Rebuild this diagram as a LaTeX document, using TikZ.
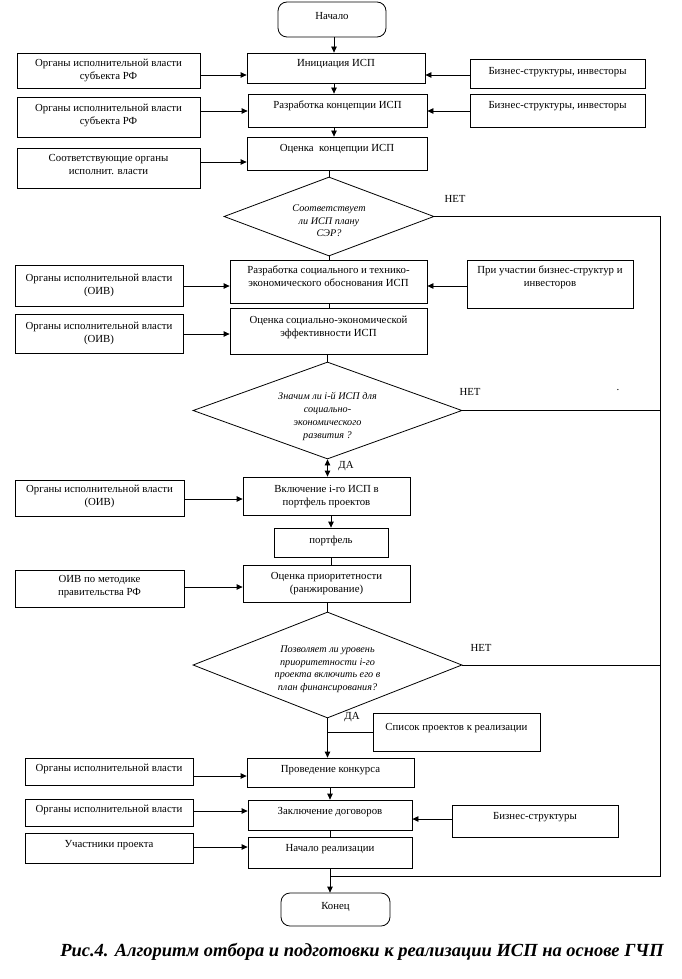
\documentclass[tikz,border=0pt]{standalone}
\usepackage{fontspec}
\setmainfont{Liberation Serif}
\usetikzlibrary{shapes.geometric,arrows.meta}
\newcommand{\mytxt}[2]{\raisebox{#1}[\height][\depth]{\begin{tabular}{@{}c@{}}#2\end{tabular}}}
\tikzset{
  bx/.style 2 args={draw, rectangle, line width=0.8pt, minimum width=#1, minimum height=#2, inner sep=0pt,
    font=\fontsize{10.8}{13}\selectfont},
  term/.style 2 args={bx={#1}{#2}, rounded corners=9pt},
  dia/.style 2 args={draw, diamond, line width=0.8pt, minimum width=#1, minimum height=#2, inner sep=0pt,
    font=\fontsize{10.2}{12.8}\selectfont\itshape},
  lbl/.style={inner sep=0pt, font=\fontsize{10.8}{13}\selectfont},
  ln/.style={line width=0.8pt},
  arr/.style={line width=0.8pt, -{Triangle[length=6pt,width=5.5pt]}},
  darr/.style={line width=0.8pt, {Triangle[length=6pt,width=5.5pt]}-{Triangle[length=6pt,width=5.5pt]}},
}
\begin{document}
\begin{tikzpicture}[x=1pt,y=-1pt]
\useasboundingbox[fill=white] (0,0) rectangle (682,979);
% centre line / right line coordinates
\coordinate (ca) at (334,0);
\coordinate (cb) at (330,0);
\coordinate (rx) at (660,0);
\coordinate (bt) at (330,876);
% main column
\node[term={108pt}{35pt}] (start) at (332,19.5) {\mytxt{2.5pt}{Начало}};
\node[bx={178pt}{30pt}] (init) at (336,68) {\mytxt{4pt}{Инициация ИСП}};
\node[bx={179pt}{33pt}] (dev) at (337.5,110.5) {\mytxt{5pt}{Разработка концепции ИСП}};
\node[bx={180pt}{33pt}] (eval) at (337,153.5) {\mytxt{5pt}{Оценка\ \ концепции ИСП}};
\node[dia={210pt}{79pt}, shape aspect=2.66] (d1) at (329,216.5) {\mytxt{-5pt}{Соответствует\\ли ИСП плану\\СЭР?}};
\node[bx={197pt}{43pt}] (sed) at (328.5,281.5) {\mytxt{4.5pt}{Разработка социального и технико-\\экономического обоснования ИСП}};
\node[bx={197pt}{46pt}] (see) at (328.5,331) {\mytxt{4pt}{Оценка социально-экономической\\эффективности ИСП}};
\node[dia={269pt}{97pt}, shape aspect=2.77] (d2) at (327.5,410.5) {\mytxt{-6pt}{Значим ли i-й ИСП для\\социально-\\экономического\\развития ?}};
\node[bx={167pt}{38pt}] (incl) at (326.5,496) {\mytxt{0pt}{Включение i-го ИСП в\\портфель проектов}};
\node[bx={114pt}{29pt}] (port) at (331,542.5) {\mytxt{1.5pt}{портфель}};
\node[bx={167pt}{37pt}] (rank) at (326.5,583.5) {\mytxt{0pt}{Оценка приоритетности\\(ранжирование)}};
\node[dia={269pt}{106pt}, shape aspect=2.54] (d3) at (327.5,665) {\mytxt{-4pt}{Позволяет ли уровень\\приоритетности i-го\\проекта включить его в\\план финансирования?}};
\node[bx={167pt}{38pt}] (list) at (456.5,732) {\mytxt{4pt}{Список проектов к реализации}};
\node[bx={167pt}{29pt}] (contest) at (330.5,772.5) {\mytxt{2.5pt}{Проведение конкурса}};
\node[bx={164pt}{30pt}] (contr) at (330,815) {\mytxt{3pt}{Заключение договоров}};
\node[bx={164pt}{31pt}] (real) at (330,852.5) {\mytxt{3.5pt}{Начало реализации}};
\node[term={109pt}{33pt}] (end) at (335.5,909.5) {\mytxt{2.5pt}{Конец}};
% left column
\node[bx={183pt}{35pt}] (l1) at (108.5,70.5) {\mytxt{0pt}{Органы исполнительной власти\\субъекта РФ}};
\node[bx={183pt}{40pt}] (l2) at (108.5,117) {\mytxt{2pt}{Органы исполнительной власти\\субъекта РФ}};
\node[bx={183pt}{40pt}] (l3) at (108.5,168) {\mytxt{2.5pt}{Соответствующие органы\\исполнит. власти}};
\node[bx={168pt}{41pt}] (l4) at (99,285.5) {\mytxt{0pt}{Органы исполнительной власти\\(ОИВ)}};
\node[bx={168pt}{39pt}] (l5) at (99,333.5) {\mytxt{0pt}{Органы исполнительной власти\\(ОИВ)}};
\node[bx={169pt}{36pt}] (l6) at (99.5,498) {\mytxt{2pt}{Органы исполнительной власти\\(ОИВ)}};
\node[bx={169pt}{37pt}] (l7) at (99.5,588.5) {\mytxt{2pt}{ОИВ по методике\\правительства РФ}};
\node[bx={168pt}{27pt}] (l8) at (109,771.5) {\mytxt{2.5pt}{Органы исполнительной власти}};
\node[bx={168pt}{27pt}] (l9) at (109,812.5) {\mytxt{3pt}{Органы исполнительной власти}};
\node[bx={168pt}{30pt}] (l10) at (109,848) {\mytxt{3pt}{Участники проекта}};
% right column
\node[bx={175pt}{29pt}] (r1) at (557.5,73.5) {\mytxt{1.5pt}{Бизнес-структуры, инвесторы}};
\node[bx={175pt}{33pt}] (r2) at (557.5,110.5) {\mytxt{5pt}{Бизнес-структуры, инвесторы}};
\node[bx={166pt}{48pt}] (r4) at (550,284) {\mytxt{6.5pt}{При участии бизнес-структур и\\инвесторов}};
\node[bx={166pt}{32pt}] (r9) at (535,821) {\mytxt{4pt}{Бизнес-структуры}};
% labels
\node[lbl] (no1) at (455,199) {НЕТ};
\node[lbl] (no2) at (470,392) {НЕТ};
\node[lbl] (dot) at (618,390) {.};
\node[lbl] (no3) at (481,648) {НЕТ};
\node[lbl] (yes1) at (346,466) {ДА};
\node[lbl] (yes2) at (352,717) {ДА};
\node[font=\fontsize{18.5}{22}\selectfont\bfseries\itshape, inner sep=0pt] (cap) at (362,952)
  {Рис.4. Алгоритм отбора и подготовки к реализации ИСП на основе ГЧП};
% vertical flow
\draw[arr] (start.south -| ca) -- (init.north -| ca);
\draw[arr] (init.south -| ca) -- (dev.north -| ca);
\draw[arr] (dev.south -| ca) -- (eval.north -| ca);
\draw[ln] (eval.south -| d1.north) -- (d1.north);
\draw[ln] (d1.south) -- (d1.south |- sed.north);
\draw[ln] (sed.south -| d1.south) -- (see.north -| d1.south);
\draw[ln] (see.south -| d2.north) -- (d2.north);
\draw[darr] (d2.south) -- (d2.south |- incl.north);
\draw[arr] (incl.south -| port.north) -- (port.north);
\draw[ln] (port.south) -- (port.south |- rank.north);
\draw[ln] (rank.south -| d3.north) -- (d3.north);
\draw[arr] (d3.south) -- (d3.south |- contest.north);
\draw[ln] (d3.south |- list.west) -- (list.west);
\draw[arr] (contest.south -| cb) -- (contr.north -| cb);
\draw[ln] (contr.south -| cb) -- (real.north -| cb);
\draw[arr] (real.south -| cb) -- (end.north -| cb);
% NO loop
\draw[ln] (d1.east) -- (d1.east -| rx) -- (rx |- bt) -- (bt);
\draw[ln] (d2.east) -- (d2.east -| rx);
\draw[ln] (d3.east) -- (d3.east -| rx);
% left inputs
\draw[arr] (l1.east |- 0,75) -- (init.west |- 0,75);
\draw[arr] (l2.east |- 0,111) -- (dev.west |- 0,111);
\draw[arr] (l3.east |- 0,162) -- (eval.west |- 0,162);
\draw[arr] (l4.east |- 0,286) -- (sed.west |- 0,286);
\draw[arr] (l5.east |- 0,334) -- (see.west |- 0,334);
\draw[arr] (l6.east |- 0,499) -- (incl.west |- 0,499);
\draw[arr] (l7.east |- 0,587) -- (rank.west |- 0,587);
\draw[arr] (l8.east |- 0,776) -- (contest.west |- 0,776);
\draw[arr] (l9.east |- 0,811) -- (contr.west |- 0,811);
\draw[arr] (l10.east |- 0,847) -- (real.west |- 0,847);
% right inputs
\draw[arr] (r1.west |- 0,75) -- (init.east |- 0,75);
\draw[arr] (r2.west |- 0,111) -- (dev.east |- 0,111);
\draw[arr] (r4.west |- 0,286) -- (sed.east |- 0,286);
\draw[arr] (r9.west |- 0,819) -- (contr.east |- 0,819);
\end{tikzpicture}
\end{document}
